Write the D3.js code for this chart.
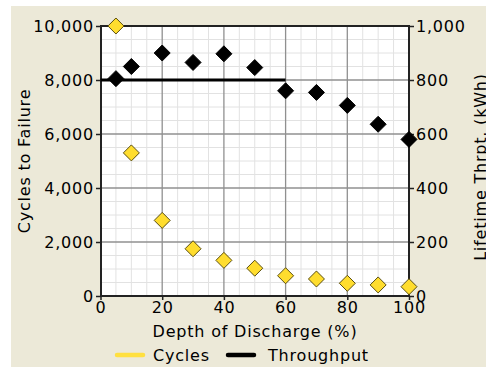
<!DOCTYPE html>
<html><head><meta charset="utf-8">
<script src="https://cdn.jsdelivr.net/npm/d3@7"></script>
<style>
html,body{margin:0;padding:0;background:#fff;}
svg text{font-family:"DejaVu Sans",Verdana,sans-serif;font-size:16px;fill:#000;letter-spacing:0.8px;}
</style></head>
<body>
<script>
// Data
const depth = [5, 10, 20, 30, 40, 50, 60, 70, 80, 90, 100];
const cycles = [10000, 5300, 2800, 1750, 1320, 1030, 750, 630, 470, 410, 345];
const throughput = [805, 850, 900, 865, 897, 846, 760, 754, 706, 636, 580];
const throughputLineX = [0, 60];
const throughputLineY = [800, 800];
const xTicks = [0, 20, 40, 60, 80, 100];
const yLeftTicks = [0, 2000, 4000, 6000, 8000, 10000];
const yRightTicks = [0, 200, 400, 600, 800, 1000];
const seriesNames = ["Cycles", "Throughput"];

const W = 486, H = 368;
const L = 101, R = 409, T = 26, B = 296;
const svg = d3.select("body").append("svg").attr("width", W).attr("height", H);

svg.append("rect").attr("x", 11).attr("y", 6).attr("width", W - 11).attr("height", 361).attr("fill", "#ECE9D8");
svg.append("rect").attr("x", L).attr("y", T).attr("width", R - L).attr("height", B - T).attr("fill", "#fff");

const x = d3.scaleLinear().domain([0, 100]).range([L - 0.5, R]);
const y = d3.scaleLinear().domain([0, 10000]).range([B, T]);
const y2 = d3.scaleLinear().domain([0, 1000]).range([B, T]);

// minor grid
const g = svg.append("g");
g.selectAll("line.mx").data(d3.range(5, 100, 5).filter(v => v % 20 !== 0)).join("line")
  .attr("x1", d => x(d)).attr("x2", d => x(d)).attr("y1", T).attr("y2", B)
  .attr("stroke", "#e2e2e2").attr("stroke-width", 1);
g.selectAll("line.my").data(d3.range(500, 10000, 500).filter(v => v % 2000 !== 0)).join("line")
  .attr("y1", d => y(d)).attr("y2", d => y(d)).attr("x1", L).attr("x2", R)
  .attr("stroke", "#e2e2e2").attr("stroke-width", 1);
// major grid
g.selectAll("line.Mx").data(xTicks.slice(1, -1)).join("line")
  .attr("x1", d => x(d)).attr("x2", d => x(d)).attr("y1", T).attr("y2", B)
  .attr("stroke", "#909090").attr("stroke-width", 1.3);
g.selectAll("line.My").data(yLeftTicks.slice(1, -1)).join("line")
  .attr("y1", d => y(d)).attr("y2", d => y(d)).attr("x1", L).attr("x2", R)
  .attr("stroke", "#909090").attr("stroke-width", 1.3);

// frame
svg.append("rect").attr("x", L).attr("y", T).attr("width", R - L).attr("height", B - T)
  .attr("fill", "none").attr("stroke", "#222").attr("stroke-width", 2);

// axes
const axL = svg.append("g").attr("transform", `translate(${L},0)`)
  .call(d3.axisLeft(y).tickValues(yLeftTicks).tickSize(5).tickPadding(2).tickFormat(d3.format(",")));
const axR = svg.append("g").attr("transform", `translate(${R},0)`)
  .call(d3.axisRight(y2).tickValues(yRightTicks).tickSize(5).tickPadding(2).tickFormat(d3.format(",")));
const axB = svg.append("g").attr("transform", `translate(0,${B})`)
  .call(d3.axisBottom(x).tickValues(xTicks).tickSize(4).tickPadding(2));
[axL, axR, axB].forEach(a => {
  a.select(".domain").remove();
  a.selectAll(".tick line").attr("stroke", "#222").attr("stroke-width", 1.5);
  a.selectAll("text").attr("font-size", null).attr("font-family", null).attr("fill", "#000");
});

// titles
svg.append("text").attr("transform", `translate(30,161) rotate(-90)`).attr("text-anchor", "middle").text("Cycles to Failure");
svg.append("text").attr("transform", `translate(486,167) rotate(-90)`).attr("text-anchor", "middle").text("Lifetime Thrpt. (kWh)");
svg.append("text").attr("x", 255).attr("y", 337).attr("text-anchor", "middle").text("Depth of Discharge (%)");

// throughput line
const line = d3.line().x(d => x(d[0])).y(d => y2(d[1]));
svg.append("path").datum(throughputLineX.map((v, i) => [v, throughputLineY[i]]))
  .attr("d", line).attr("fill", "none").attr("stroke", "#000").attr("stroke-width", 3);

const diamond = "M0,-8L8,0L0,8L-8,0Z";
// throughput diamonds
svg.append("g").selectAll("path").data(depth).join("path")
  .attr("d", diamond).attr("transform", (d, i) => `translate(${x(d)},${y2(throughput[i])})`)
  .attr("fill", "#000").attr("stroke", "#000").attr("stroke-width", 1);
// cycles diamonds
svg.append("g").selectAll("path").data(depth).join("path")
  .attr("d", diamond).attr("transform", (d, i) => `translate(${x(d)},${y(cycles[i])})`)
  .attr("fill", "#FFDD2E").attr("stroke", "#5a4e10").attr("stroke-width", 1);

// legend
const leg = svg.append("g");
const legX = [117, 228], legTX = [153, 268], legC = ["#FFE040", "#000"];
seriesNames.forEach((n, i) => {
  leg.append("line").attr("x1", legX[i]).attr("x2", legX[i] + 26).attr("y1", 355).attr("y2", 355)
    .attr("stroke", legC[i]).attr("stroke-width", 4.5).attr("stroke-linecap", "round");
  leg.append("text").attr("x", legTX[i]).attr("y", 361).text(n);
});
</script>
</body></html>
